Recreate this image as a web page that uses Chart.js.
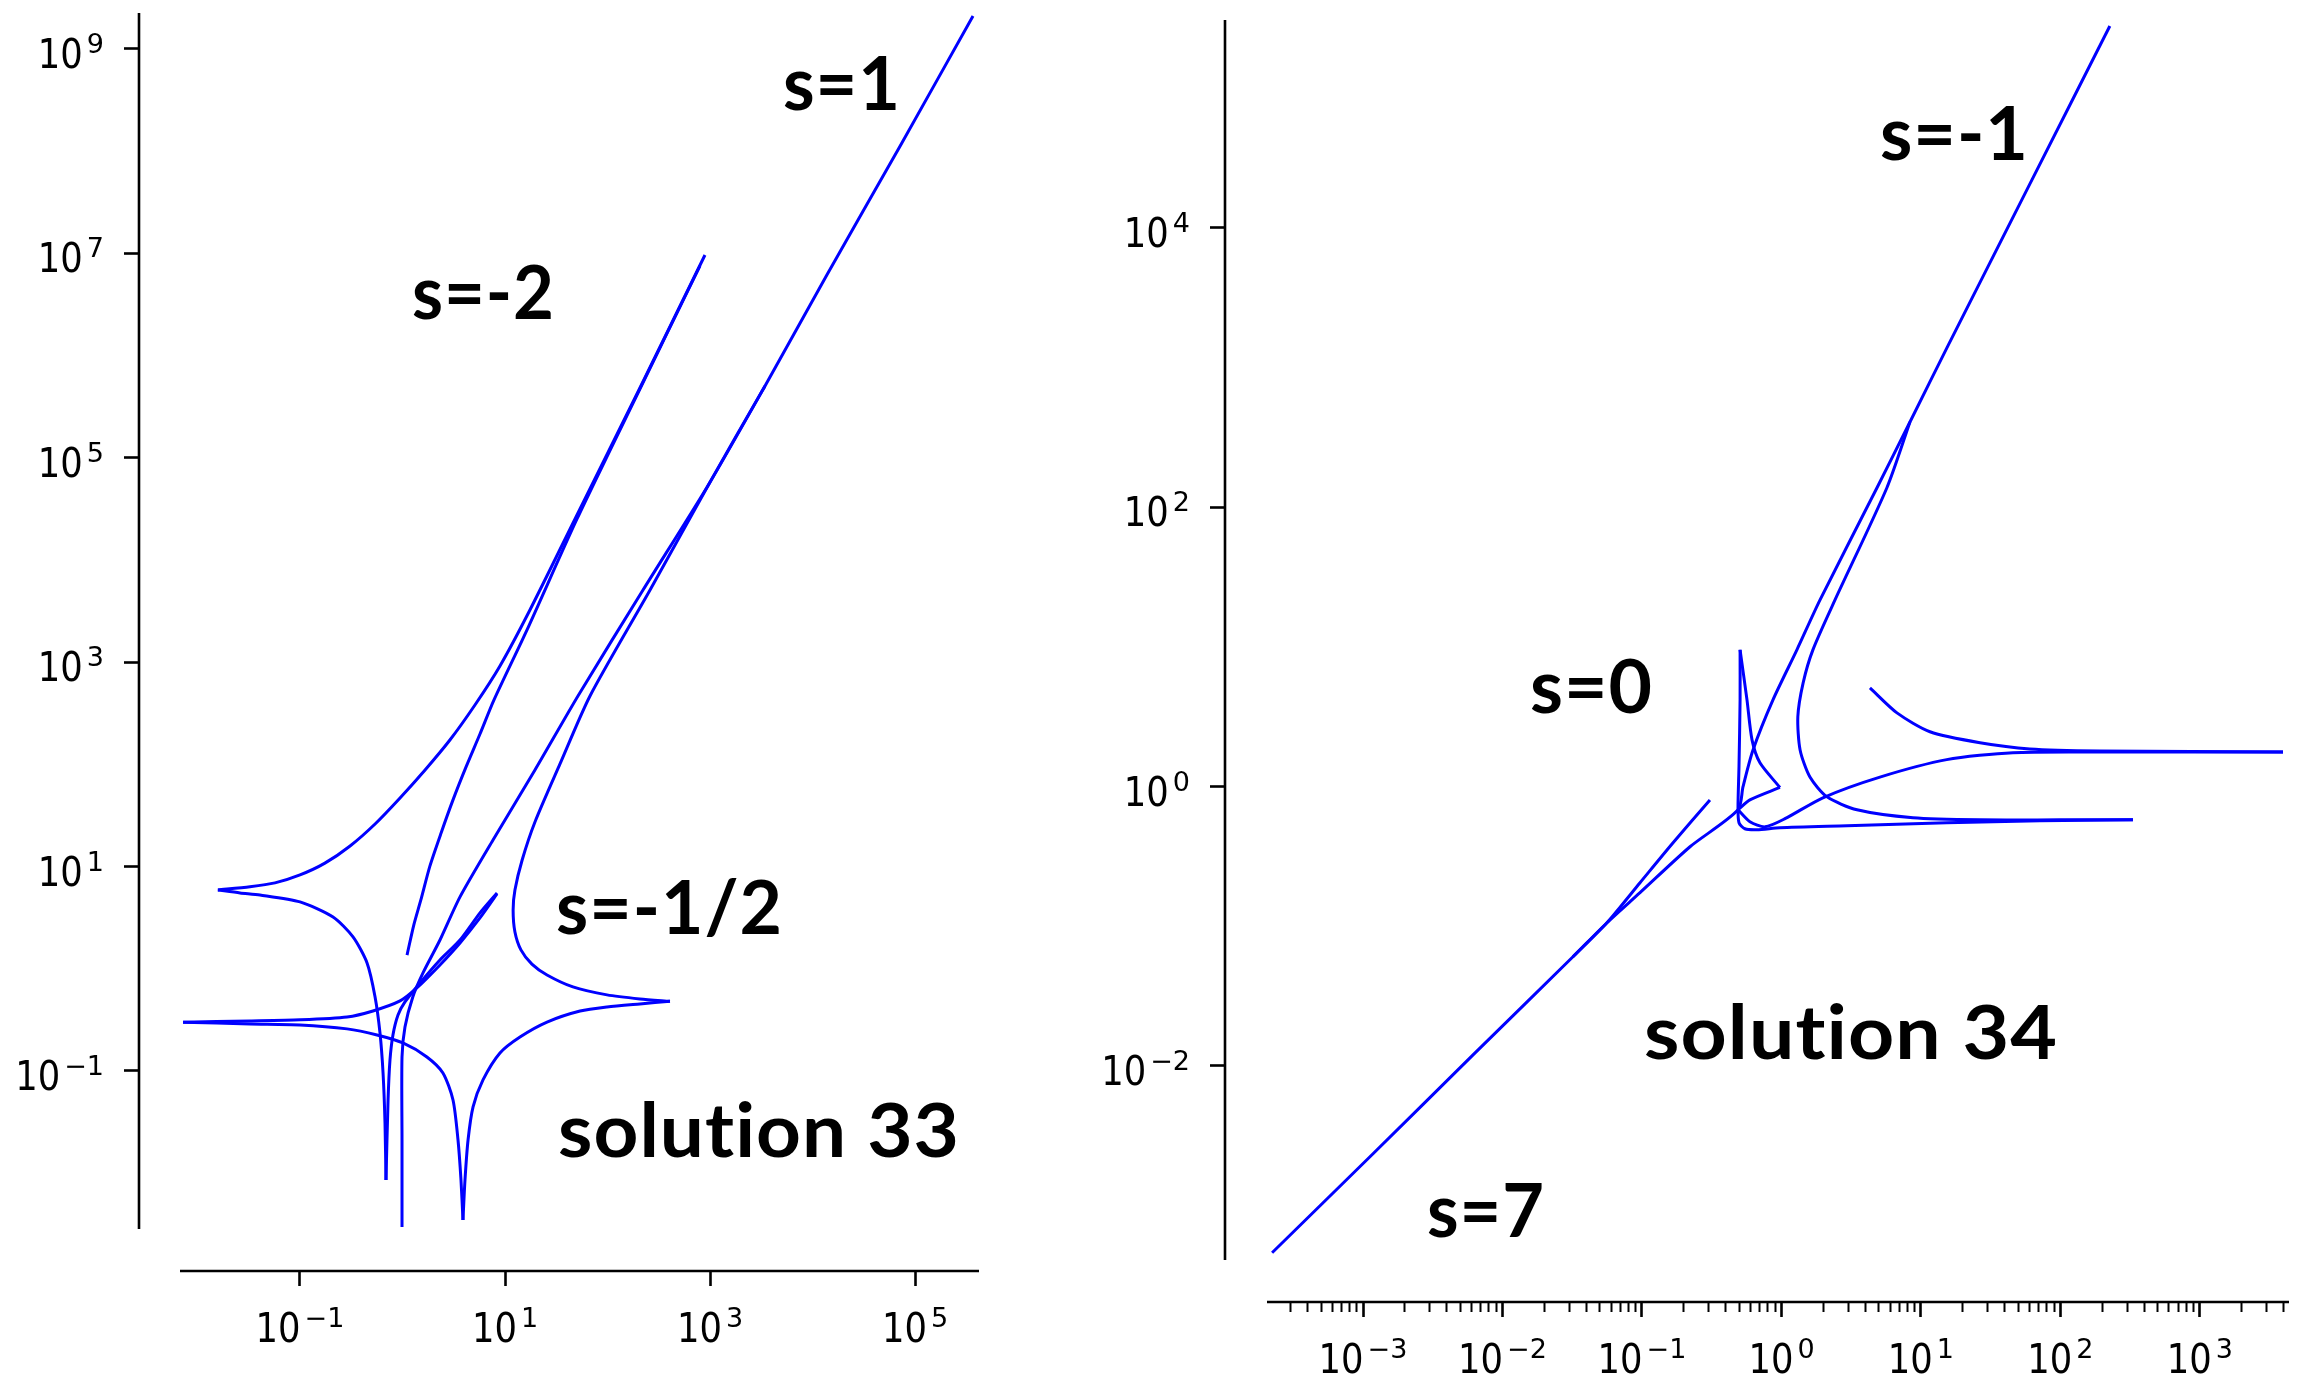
<!DOCTYPE html>
<html>
<head>
<meta charset="utf-8">
<script src="https://cdn.jsdelivr.net/npm/chart.js@4.4.1/dist/chart.umd.min.js"></script>
<style>
  html, body { margin: 0; padding: 0; background: #fff; }
  body { width: 2305px; height: 1400px; position: relative; overflow: hidden; }
  canvas { position: absolute; top: 0; }
  #sol33 { left: 0; }
  #sol34 { left: 1000px; }
</style>
</head>
<body>
<canvas id="sol33" width="1000" height="1400"></canvas>
<canvas id="sol34" width="1305" height="1400"></canvas>
<script>
// ---- solution 33 (left panel) ----
const s33SMinus2X = [893, 207, 48.2, 17.5, 8.93, 5.09, 2.90, 1.66, 0.946, 0.540, 0.308, 0.175, 0.100, 0.0570, 0.0325, 0.0158];
const s33SMinus2Y = [9.64e6, 4.82e5, 2.52e4, 3.24e3, 918, 381, 173, 88.1, 46.9, 26.1, 15.9, 10.8, 8.28, 6.92, 6.34, 5.90];

const s33CuspLowX = [0.0158, 0.0260, 0.0407, 0.100, 0.210, 0.329, 0.451, 0.540, 0.603, 0.646, 0.675, 0.690];
const s33CuspLowY = [5.90, 5.52, 5.27, 4.51, 3.21, 2.05, 1.14, 0.530, 0.2355, 0.0955, 0.0310, 0.00857];

const s33SpikeRiseX = [0.690, 0.723, 0.755, 0.807, 0.904, 1.057, 1.48, 2.32, 3.64, 5.70, 8.36];
const s33SpikeRiseY = [0.00857, 0.0520, 0.128, 0.225, 0.353, 0.473, 0.726, 1.22, 1.91, 3.52, 5.52];

const s33InnerX = [1.107, 1.29, 1.51, 1.85, 2.38, 3.11, 4.17, 5.70, 7.81, 16.4, 50.4, 207, 798];
const s33InnerY = [1.36, 2.69, 4.71, 10.1, 21.3, 44.9, 94.4, 198, 427, 2070, 2.52e4, 4.71e5, 7.54e6];

const s33S1X = [3.68e5, 7.14e4, 1.38e4, 3.44e3, 977, 222, 51.5, 19.6, 7.64, 3.64, 2.32, 1.585, 1.26, 1.057, 0.989, 0.989, 0.989];
const s33S1Y = [2.10e9, 1.12e8, 6.15e6, 5.05e5, 5.55e4, 5.08e3, 467, 88.1, 18.2, 5.05, 1.91, 0.910, 0.530, 0.269, 0.137, 0.0211, 0.00297];

const s33S1BendX = [3.44e3, 977, 260, 67.5, 34.4, 19.6, 14.7, 12.5, 12.0, 12.5, 14.3, 18.3, 25.7, 46.0, 98.9, 207, 407];
const s33S1BendY = [5.05e5, 5.55e4, 5.08e3, 467, 101, 27.3, 11.6, 5.90, 3.76, 2.29, 1.53, 1.11, 0.869, 0.664, 0.555, 0.507, 0.48];

const s33RightCuspLowX = [407, 207, 98.9, 54.0, 25.7, 14.0, 8.93, 6.10, 4.88, 4.36, 4.07, 3.89];
const s33RightCuspLowY = [0.48, 0.453, 0.423, 0.386, 0.301, 0.215, 0.150, 0.0817, 0.0445, 0.0211, 0.00857, 0.00348];

const s33LeftCuspLowX = [0.00723, 0.0325, 0.100, 0.288, 0.564, 1.01, 1.73, 2.48, 3.11, 3.48, 3.72, 3.89];
const s33LeftCuspLowY = [0.30, 0.288, 0.282, 0.258, 0.225, 0.188, 0.137, 0.0955, 0.0520, 0.0211, 0.00857, 0.00348];

const s33LeftCuspUpX = [0.00723, 0.0325, 0.100, 0.288, 0.515, 0.946, 1.38, 2.32, 3.64, 5.70, 8.36];
const s33LeftCuspUpY = [0.30, 0.308, 0.316, 0.337, 0.386, 0.484, 0.649, 1.09, 1.79, 3.14, 5.40];

// ---- solution 34 (right panel) ----
const s34S7MainX = [2.23e-4, 1.18e-3, 6.15e-3, 3.20e-2, 5.61e-2, 9.68e-2, 0.221, 0.488, 0.530, 0.625, 0.869, 1.29, 1.89, 4.84, 8.34, 15.6, 63.5, 226];
const s34S7MainY = [4.60e-4, 2.35e-3, 1.20e-2, 6.05e-2, 0.106, 0.174, 0.371, 0.682, 0.998, 1.83, 4.18, 9.53, 21.7, 138, 408, 1430, 2.28e4, 2.79e5];

const s34S7TipX = [3.20e-2, 5.61e-2, 9.68e-2, 0.167, 0.307];
const s34S7TipY = [6.05e-2, 0.106, 0.205, 0.396, 0.803];

const s34SMinus1X = [8.34, 5.70, 2.42, 1.68, 1.43, 1.31, 1.36, 1.60, 2.12, 3.48, 8.77, 26.5, 99.1, 331];
const s34SMinus1Y = [408, 138, 21.7, 9.53, 5.53, 3.16, 1.83, 1.17, 0.845, 0.682, 0.598, 0.578, 0.578, 0.578];

const s34S0X = [0.505, 0.505, 0.496, 0.488, 0.496, 0.547, 0.667, 0.975, 2.95, 15.3, 71.3, 331];
const s34S0Y = [9.53, 4.18, 1.39, 0.716, 0.551, 0.499, 0.491, 0.507, 0.524, 0.551, 0.569, 0.578];

const s34S0DropX = [0.505, 0.566, 0.615, 0.701, 0.975];
const s34S0DropY = [9.53, 4.18, 2.16, 1.48, 0.986];

const s34S0BackX = [0.975, 0.594, 0.488];
const s34S0BackY = [0.986, 0.803, 0.682];

const s34RiseX = [0.488, 0.594, 0.762, 1.06, 1.98, 5.08, 15.3, 45.6, 192, 3940];
const s34RiseY = [0.682, 0.560, 0.515, 0.589, 0.832, 1.17, 1.56, 1.75, 1.77, 1.77];

const s34TopX = [4.31, 6.73, 11.6, 26.5, 60.4, 192, 3940];
const s34TopY = [5.09, 3.37, 2.47, 2.06, 1.86, 1.80, 1.77];

// tick values
const s33XTicks = [1e-1, 1e1, 1e3, 1e5];
const s33YTicks = [1e-1, 1e1, 1e3, 1e5, 1e7, 1e9];
const s34XTicks = [1e-3, 1e-2, 1e-1, 1, 1e1, 1e2, 1e3];
const s34YTicks = [1e-2, 1, 1e2, 1e4];
const minorSubs = [2, 3, 4, 5, 6, 7, 8, 9];

function pairs(xs, ys) {
    return xs.map((x, i) => ({ x: x, y: ys[i] }));
}

function curve(xs, ys) {
    return {
        data: pairs(xs, ys),
        showLine: true,
        borderColor: '#0000ff',
        borderWidth: 3,
        pointRadius: 0,
        tension: 0.25,
        fill: false
    };
}

// "10" with a raised exponent, like matplotlib's log labels
function drawPower(ctx, value, x, y, align) {
    const exp = Math.round(Math.log10(value));
    const expText = String(exp).replace('-', '\u2212');
    const baseW = 45;
    ctx.font = '27px "DejaVu Sans"';
    const expW = ctx.measureText(expText).width;
    const total = baseW + 4 + expW;
    let start = x - total;
    if (align === 'center') start = x - total / 2;
    ctx.textAlign = 'left';
    ctx.textBaseline = 'alphabetic';
    ctx.font = '40px "DejaVu Sans"';
    ctx.fillText('10', start, y, baseW);
    ctx.font = '27px "DejaVu Sans"';
    ctx.fillText(expText, start + baseW + 4, y - 15);
}

const mplAxes = {
    id: 'mplAxes',
    afterDraw(chart, args, opts) {
        const ctx = chart.ctx;
        const area = chart.chartArea;
        const sx = chart.scales.x;
        const sy = chart.scales.y;
        const spineX = area.left - opts.yOffset;
        const spineY = area.bottom + opts.xOffset;

        ctx.save();
        ctx.strokeStyle = '#000';
        ctx.lineWidth = 2.6;
        ctx.beginPath();
        ctx.moveTo(spineX, area.top);
        ctx.lineTo(spineX, area.bottom);
        ctx.moveTo(area.left, spineY);
        ctx.lineTo(area.right, spineY);
        ctx.stroke();

        ctx.fillStyle = '#000';
        opts.yLabels.forEach(v => drawPower(ctx, v, spineX - 35, sy.getPixelForValue(v) + 19, 'right'));
        opts.xLabels.forEach(v => drawPower(ctx, v, sx.getPixelForValue(v), spineY + 71, 'center'));

        // bold text notes (letter spacing keeps Lato from joining "ti")
        ctx.font = 'bold 75px Lato';
        if ('letterSpacing' in ctx) ctx.letterSpacing = '1px';
        ctx.textAlign = 'left';
        ctx.textBaseline = 'alphabetic';
        opts.notes.forEach(n => {
            const w = ctx.measureText(n.text).width;
            ctx.save();
            ctx.translate(n.x, n.y);
            ctx.scale(n.w / w, 1);
            ctx.fillText(n.text, 0, 0);
            ctx.restore();
        });
        if ('letterSpacing' in ctx) ctx.letterSpacing = '0px';
        ctx.restore();
    }
};

function logAxis(position, min, max, tickVals, size, offset, withMinor) {
    const isX = position === 'bottom';
    return {
        type: 'logarithmic',
        position: position,
        min: min,
        max: max,
        border: { display: false },
        ticks: { display: false },
        grid: {
            drawOnChartArea: false,
            drawTicks: true,
            tickLength: size,
            tickColor: '#000',
            tickWidth: c => (c.tick && c.tick.minor) ? 2 : 2.6,
            tickBorderDash: c => {
                const len = (c.tick && c.tick.minor) ? 10 : 15;
                return isX ? [len, offset] : [len, 1000];
            },
            tickBorderDashOffset: c => {
                if (!isX) return 0;
                return (c.tick && c.tick.minor) ? 10 : 15;
            }
        },
        afterBuildTicks: scale => {
            const list = tickVals.map(v => ({ value: v, major: true }));
            if (withMinor) {
                tickVals.concat([1e-4]).forEach(d => {
                    minorSubs.forEach(m => {
                        const v = d * m;
                        if (v > min && v < max) list.push({ value: v, minor: true });
                    });
                });
            }
            list.sort((a, b) => a.value - b.value);
            scale.ticks = list;
        },
        afterFit: scale => {
            if (isX) scale.height = size; else scale.width = size;
        }
    };
}

// left panel: solution 33
new Chart(document.getElementById('sol33').getContext('2d'), {
    type: 'scatter',
    data: {
        datasets: [
            curve(s33SMinus2X, s33SMinus2Y),
            curve(s33CuspLowX, s33CuspLowY),
            curve(s33SpikeRiseX, s33SpikeRiseY),
            curve(s33InnerX, s33InnerY),
            curve(s33S1X, s33S1Y),
            curve(s33S1BendX, s33S1BendY),
            curve(s33RightCuspLowX, s33RightCuspLowY),
            curve(s33LeftCuspLowX, s33LeftCuspLowY),
            curve(s33LeftCuspUpX, s33LeftCuspUpY)
        ]
    },
    options: {
        responsive: false,
        animation: false,
        devicePixelRatio: 1,
        layout: { padding: { left: 124, top: 13, right: 21, bottom: 114 } },
        plugins: {
            legend: { display: false },
            tooltip: { enabled: false },
            mplAxes: {
                yOffset: 41,
                xOffset: 42,
                xLabels: s33XTicks,
                yLabels: s33YTicks,
                notes: [
                    { text: 's=1', x: 783, y: 110, w: 118 },
                    { text: 's=-2', x: 412, y: 319, w: 143 },
                    { text: 's=-1/2', x: 556, y: 934, w: 227 },
                    { text: 'solution 33', x: 558, y: 1157, w: 402 }
                ]
            }
        },
        scales: {
            x: logAxis('bottom', 6.75e-3, 4.21e5, s33XTicks, 57, 42, false),
            y: logAxis('left', 2.84e-3, 2.25e9, s33YTicks, 56, 41, false)
        }
    },
    plugins: [mplAxes]
});

// right panel: solution 34
new Chart(document.getElementById('sol34').getContext('2d'), {
    type: 'scatter',
    data: {
        datasets: [
            curve(s34S7MainX, s34S7MainY),
            curve(s34S7TipX, s34S7TipY),
            curve(s34SMinus1X, s34SMinus1Y),
            curve(s34S0X, s34S0Y),
            curve(s34S0DropX, s34S0DropY),
            curve(s34S0BackX, s34S0BackY),
            curve(s34RiseX, s34RiseY),
            curve(s34TopX, s34TopY)
        ]
    },
    options: {
        responsive: false,
        animation: false,
        devicePixelRatio: 1,
        layout: { padding: { left: 210, top: 20, right: 16, bottom: 83 } },
        plugins: {
            legend: { display: false },
            tooltip: { enabled: false },
            mplAxes: {
                yOffset: 42,
                xOffset: 42,
                xLabels: s34XTicks,
                yLabels: s34YTicks,
                notes: [
                    { text: 's=-1', x: 880, y: 160, w: 149 },
                    { text: 's=0', x: 530, y: 713, w: 123 },
                    { text: 'solution 34', x: 644, y: 1059, w: 414 },
                    { text: 's=7', x: 427, y: 1237, w: 118 }
                ]
            }
        },
        scales: {
            x: logAxis('bottom', 2.05e-4, 4.35e3, s34XTicks, 57, 42, true),
            y: logAxis('left', 4.08e-4, 3.08e5, s34YTicks, 57, 42, false)
        }
    },
    plugins: [mplAxes]
});
</script>
</body>
</html>
